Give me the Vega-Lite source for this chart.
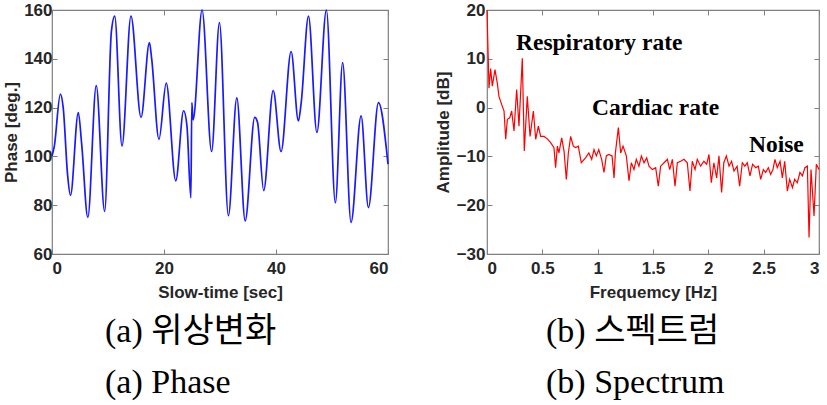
{
  "$schema": "https://vega.github.io/schema/vega-lite/v6.json",
  "padding": {"left": 2, "top": 0, "right": 1, "bottom": 0},
  "background": "white",
  "spacing": 41,
  "config": {
    "view": {"stroke": "#808080", "strokeWidth": 1.2},
    "axis": {
      "labelFont": "Liberation Sans", "labelFontWeight": "bold", "labelFontSize": 17, "labelColor": "#262626",
      "titleFont": "Liberation Sans", "titleFontWeight": "bold", "titleFontSize": 17, "titleColor": "#262626",
      "tickColor": "#808080", "tickSize": -5, "tickWidth": 1, "domain": false, "grid": false
    },
    "axisX": {"labelPadding": 11, "titlePadding": 8},
    "axisY": {"labelPadding": 5, "titlePadding": 3},
    "title": {"font": "Liberation Serif, Noto Sans CJK KR", "fontWeight": "normal", "fontSize": 34, "color": "black", "lineHeight": 51}
  },
  "datasets": {
    "phase": [
      {"t": 0, "v": 100.2}, {"t": 0.4, "v": 104}, {"t": 1.5, "v": 125.5}, {"t": 2.0, "v": 120},
      {"t": 2.8, "v": 92}, {"t": 3.3, "v": 84}, {"t": 4.7, "v": 118}, {"t": 5.3, "v": 105},
      {"t": 6.4, "v": 75}, {"t": 7.9, "v": 129}, {"t": 9.4, "v": 77.5}, {"t": 10.6, "v": 151},
      {"t": 11.2, "v": 157.5}, {"t": 12.5, "v": 104.3}, {"t": 14.1, "v": 157.5}, {"t": 15.9, "v": 116},
      {"t": 17.4, "v": 146.6}, {"t": 17.8, "v": 140}, {"t": 19.1, "v": 107}, {"t": 20.4, "v": 130},
      {"t": 22.1, "v": 90}, {"t": 23.5, "v": 118.7}, {"t": 24.1, "v": 112.5}, {"t": 24.8, "v": 83},
      {"t": 24.97, "v": 122}, {"t": 25.2, "v": 115}, {"t": 26.8, "v": 160}, {"t": 28.5, "v": 102},
      {"t": 29.9, "v": 154.8}, {"t": 31.5, "v": 75.7}, {"t": 33.0, "v": 124}, {"t": 34.5, "v": 73.6},
      {"t": 36.2, "v": 116}, {"t": 36.7, "v": 114}, {"t": 37.8, "v": 86}, {"t": 39.5, "v": 127},
      {"t": 40.9, "v": 102}, {"t": 42.7, "v": 143}, {"t": 44.0, "v": 114.5}, {"t": 44.5, "v": 122},
      {"t": 45.8, "v": 157.5}, {"t": 47.3, "v": 109.8}, {"t": 49.0, "v": 160}, {"t": 50.6, "v": 81},
      {"t": 51.9, "v": 138.4}, {"t": 53.4, "v": 73}, {"t": 55.2, "v": 116.6}, {"t": 56.5, "v": 79},
      {"t": 58.3, "v": 122}, {"t": 60, "v": 96.8}
    ],
    "spectrum": [
      {"f": 0, "a": 20}, {"f": 0.018, "a": 4}, {"f": 0.033, "a": 8}, {"f": 0.048, "a": 4.4},
      {"f": 0.072, "a": 7.8}, {"f": 0.093, "a": 5}, {"f": 0.108, "a": 2.3}, {"f": 0.133, "a": 0.6},
      {"f": 0.154, "a": -0.7}, {"f": 0.169, "a": -6.5}, {"f": 0.184, "a": -2.4}, {"f": 0.205, "a": -2.1},
      {"f": 0.223, "a": -0.7}, {"f": 0.244, "a": -4.8}, {"f": 0.268, "a": 3.7}, {"f": 0.289, "a": -3.8},
      {"f": 0.319, "a": 10.1}, {"f": 0.337, "a": -8.9}, {"f": 0.364, "a": 2.3}, {"f": 0.389, "a": -5.9},
      {"f": 0.419, "a": -0.7}, {"f": 0.44, "a": -6.5}, {"f": 0.464, "a": -3.8}, {"f": 0.485, "a": -5.9},
      {"f": 0.515, "a": -5.9}, {"f": 0.545, "a": -6.4}, {"f": 0.575, "a": -7.2}, {"f": 0.605, "a": -8.2},
      {"f": 0.62, "a": -12.3}, {"f": 0.636, "a": -7.9}, {"f": 0.65, "a": -9.3}, {"f": 0.675, "a": -6.2},
      {"f": 0.696, "a": -8.9}, {"f": 0.717, "a": -14.7}, {"f": 0.735, "a": -9.3}, {"f": 0.756, "a": -5.9},
      {"f": 0.78, "a": -7.9}, {"f": 0.8, "a": -8.2}, {"f": 0.825, "a": -7.9}, {"f": 0.852, "a": -11.3},
      {"f": 0.89, "a": -10.3}, {"f": 0.92, "a": -9.3}, {"f": 0.946, "a": -10.6}, {"f": 0.967, "a": -8.6},
      {"f": 0.988, "a": -9.9}, {"f": 1.01, "a": -8.6}, {"f": 1.036, "a": -10.6}, {"f": 1.057, "a": -13.3},
      {"f": 1.078, "a": -9.9}, {"f": 1.1, "a": -9.6}, {"f": 1.13, "a": -9.9}, {"f": 1.148, "a": -14.4},
      {"f": 1.16, "a": -9.3}, {"f": 1.187, "a": -4.1}, {"f": 1.208, "a": -9.3}, {"f": 1.229, "a": -7.9},
      {"f": 1.259, "a": -9.9}, {"f": 1.283, "a": -15}, {"f": 1.304, "a": -11.3}, {"f": 1.328, "a": -12.7},
      {"f": 1.349, "a": -10.6}, {"f": 1.373, "a": -12}, {"f": 1.395, "a": -9.9}, {"f": 1.419, "a": -11.3},
      {"f": 1.443, "a": -10.3}, {"f": 1.464, "a": -12}, {"f": 1.494, "a": -12.7}, {"f": 1.524, "a": -12.3},
      {"f": 1.548, "a": -16.1}, {"f": 1.569, "a": -12}, {"f": 1.6, "a": -11.3}, {"f": 1.63, "a": -10.6},
      {"f": 1.651, "a": -12.7}, {"f": 1.675, "a": -10.6}, {"f": 1.699, "a": -16.1}, {"f": 1.72, "a": -11.3},
      {"f": 1.75, "a": -11}, {"f": 1.78, "a": -10.6}, {"f": 1.81, "a": -11.3}, {"f": 1.834, "a": -17.1},
      {"f": 1.855, "a": -11}, {"f": 1.88, "a": -12.7}, {"f": 1.9, "a": -10.6}, {"f": 1.93, "a": -12},
      {"f": 1.96, "a": -11}, {"f": 1.985, "a": -11.6}, {"f": 2.006, "a": -9.6}, {"f": 2.027, "a": -15.4},
      {"f": 2.05, "a": -11.3}, {"f": 2.075, "a": -14.4}, {"f": 2.096, "a": -9.9}, {"f": 2.12, "a": -17.4},
      {"f": 2.14, "a": -11.3}, {"f": 2.163, "a": -9.9}, {"f": 2.187, "a": -12}, {"f": 2.21, "a": -11},
      {"f": 2.232, "a": -13}, {"f": 2.26, "a": -12}, {"f": 2.283, "a": -16.1}, {"f": 2.307, "a": -11.3},
      {"f": 2.33, "a": -12}, {"f": 2.352, "a": -11.3}, {"f": 2.376, "a": -14}, {"f": 2.4, "a": -11.6},
      {"f": 2.428, "a": -12.3}, {"f": 2.452, "a": -12}, {"f": 2.473, "a": -14.7}, {"f": 2.497, "a": -12.7},
      {"f": 2.518, "a": -13.3}, {"f": 2.542, "a": -12.3}, {"f": 2.563, "a": -13.7}, {"f": 2.584, "a": -12.7},
      {"f": 2.602, "a": -10.6}, {"f": 2.623, "a": -12.3}, {"f": 2.648, "a": -11}, {"f": 2.669, "a": -14.4},
      {"f": 2.69, "a": -11}, {"f": 2.714, "a": -17.1}, {"f": 2.735, "a": -14.7}, {"f": 2.76, "a": -16.4},
      {"f": 2.78, "a": -14.7}, {"f": 2.804, "a": -15.4}, {"f": 2.828, "a": -13.3}, {"f": 2.85, "a": -14},
      {"f": 2.873, "a": -12.3}, {"f": 2.895, "a": -12}, {"f": 2.91, "a": -26.6}, {"f": 2.928, "a": -12.7},
      {"f": 2.955, "a": -22.2}, {"f": 2.976, "a": -11.6}, {"f": 3.0, "a": -12.7}
    ],
    "notes": [
      {"f": 0.262, "a": 11.8, "label": "Respiratory rate"},
      {"f": 0.949, "a": -1.43, "label": "Cardiac rate"},
      {"f": 2.367, "a": -9.2, "label": "Noise"}
    ]
  },
  "hconcat": [
    {
      "width": 336, "height": 244,
      "title": {"text": ["(a) 위상변화", "(a) Phase"], "orient": "bottom", "anchor": "start", "frame": "group", "dx": 53, "offset": 15, "baseline": "top"},
      "layer": [
        {
          "data": {"name": "phase"},
          "mark": {"type": "line", "interpolate": "monotone", "color": "#1a1aff", "strokeWidth": 1.7},
          "encoding": {
            "x": {"field": "t", "type": "quantitative", "scale": {"domain": [0, 60], "nice": false, "zero": false},
                  "axis": {"title": "Slow-time [sec]", "values": [0, 20, 40, 60]}},
            "y": {"field": "v", "type": "quantitative", "scale": {"domain": [60, 160], "nice": false, "zero": false},
                  "axis": {"title": "Phase [deg.]", "values": [60, 80, 100, 120, 140, 160]}}
          }
        },
        {
          "data": {"name": "phase"},
          "mark": {"type": "line", "opacity": 0},
          "encoding": {
            "x": {"field": "t", "type": "quantitative", "axis": {"orient": "top", "labels": false, "title": null, "values": [0, 20, 40, 60]}},
            "y": {"field": "v", "type": "quantitative", "axis": {"orient": "right", "labels": false, "title": null, "values": [60, 80, 100, 120, 140, 160]}}
          }
        }
      ],
      "resolve": {"axis": {"x": "independent", "y": "independent"}}
    },
    {
      "width": 332, "height": 244,
      "title": {"text": ["(b) 스펙트럼", "(b) Spectrum"], "orient": "bottom", "anchor": "start", "frame": "group", "dx": 59, "offset": 15, "baseline": "top"},
      "layer": [
        {
          "data": {"name": "spectrum"},
          "mark": {"type": "line", "color": "#ff0000", "strokeWidth": 1.2},
          "encoding": {
            "x": {"field": "f", "type": "quantitative", "scale": {"domain": [0, 3], "nice": false, "zero": false},
                  "axis": {"title": "Frequemcy [Hz]", "values": [0, 0.5, 1, 1.5, 2, 2.5, 3], "format": "~g"}},
            "y": {"field": "a", "type": "quantitative", "scale": {"domain": [-30, 20], "nice": false, "zero": false},
                  "axis": {"title": "Amplitude [dB]", "values": [-30, -20, -10, 0, 10, 20], "labelPadding": 7, "titlePadding": 4}}
          }
        },
        {
          "data": {"name": "notes"},
          "mark": {"type": "text", "align": "left", "baseline": "alphabetic", "font": "Liberation Serif", "fontWeight": "bold", "fontSize": 23.5, "color": "black"},
          "encoding": {
            "x": {"field": "f", "type": "quantitative", "axis": {"orient": "top", "labels": false, "title": null, "values": [0, 0.5, 1, 1.5, 2, 2.5, 3]}},
            "y": {"field": "a", "type": "quantitative", "axis": {"orient": "right", "labels": false, "title": null, "values": [-30, -20, -10, 0, 10, 20]}},
            "text": {"field": "label"}
          }
        }
      ],
      "resolve": {"axis": {"x": "independent", "y": "independent"}}
    }
  ]
}
